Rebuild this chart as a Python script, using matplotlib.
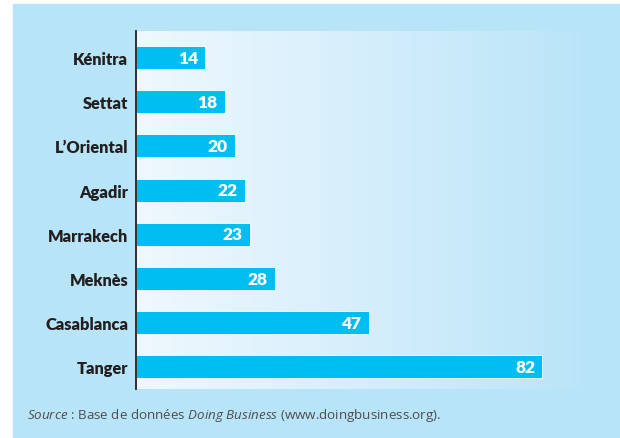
import numpy as np
from matplotlib import pyplot as plt
from matplotlib.patches import Rectangle
from matplotlib.colors import LinearSegmentedColormap

regions = ['Kénitra', 'Settat', "L’Oriental", 'Agadir', 'Marrakech',
           'Meknès', 'Casablanca', 'Tanger']
values = [14, 18, 20, 22, 23, 28, 47, 82]

plt.rcParams['mathtext.fontset'] = 'custom'
plt.rcParams['mathtext.rm'] = 'Open Sans'
plt.rcParams['mathtext.it'] = 'Open Sans:italic'

W, H = 620, 439
fig = plt.figure(figsize=(W / 100, H / 100), dpi=100)
fig.patch.set_facecolor('white')

# light blue panel
fig.patches.append(Rectangle((13 / W, 0), 1 - 13 / W, 1 - 5 / H,
                             transform=fig.transFigure, color='#b8e4f8',
                             zorder=-5))

ax = fig.add_axes([136 / W, 1 - 390 / H, (597 - 136) / W, (390 - 32) / H])
ax.set_zorder(2)
ax.set_facecolor('none')

y = np.arange(len(regions))
ax.set_xlim(0, 93)
ax.set_ylim(len(regions) - 0.5, -0.6)

# gradient background
cmap = LinearSegmentedColormap.from_list('bg', ['#eff8fe', '#d5eefb', '#b8e4f8'])
grad = np.linspace(0, 1, 256).reshape(1, -1)
ax.imshow(grad, cmap=cmap, aspect='auto', extent=[0, 93, len(regions) - 0.5, -0.6],
          zorder=0)

ax.barh(y, values, height=0.52, color='#00bef0', edgecolor='white',
        linewidth=0.6, zorder=2)
for yi, v in zip(y, values):
    ax.text(v - 1.5, yi, str(v), ha='right', va='center', color='white',
            fontsize=12.5, fontweight='heavy', family='Lato', zorder=3)

ax.set_yticks(y)
ax.set_yticklabels(regions, fontsize=11.8, fontweight='heavy',
                   family='Lato', color='#231f20')
ax.tick_params(axis='y', length=0, pad=5.5)
ax.set_xticks([])
for s in ['top', 'right', 'bottom']:
    ax.spines[s].set_visible(False)
ax.spines['left'].set_color('#231f20')
ax.spines['left'].set_linewidth(1.3)
ax.spines['left'].set_zorder(4)

# source line with mixed italic
source = (r'$\mathit{Source}$ : Base de données $\mathit{Doing\ Business}$ '
          '(www.doingbusiness.org).')
fig.text(27 / W, 1 - 415 / H, source, fontsize=9.6, color='#4d4d4d',
         va='center', family='Open Sans')

fig.savefig('out.png', dpi=100, facecolor=fig.get_facecolor())
